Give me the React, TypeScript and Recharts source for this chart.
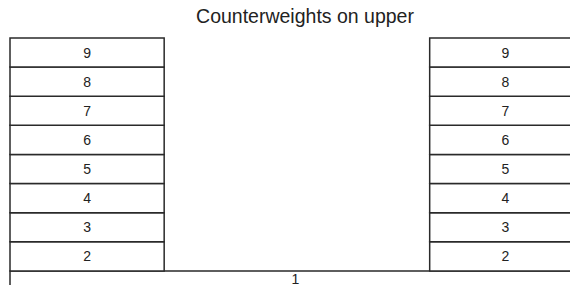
import { ComposedChart, XAxis, YAxis, ReferenceArea } from 'recharts';

// counterweights stacked on each side, bottom to top
const weightLabels = ['2', '3', '4', '5', '6', '7', '8', '9'];
const baseLabel = '1';
// column spans along the beam (0..100)
const leftColumn: [number, number] = [0, 27];
const rightColumn: [number, number] = [73.5, 100];
const baseSpan: [number, number] = [0, 100];
const title = 'Counterweights on upper';

const stroke = '#2a2a2a';
const font = 'Arial, "Liberation Sans", sans-serif';

export default function App() {
  const columns = [leftColumn, rightColumn];

  return (
    <div style={{ position: 'relative', width: 570, height: 277 }}>
      <div style={{ width: 570, height: 277, overflow: 'hidden' }}>
        <ComposedChart width={573} height={292} margin={{ top: 30, right: 0, bottom: 0, left: 2 }}>
          <XAxis type="number" dataKey="x" domain={[0, 100]} hide allowDataOverflow />
          <YAxis type="number" dataKey="y" domain={[0, weightLabels.length + 1]} hide allowDataOverflow />
          <ReferenceArea
            x1={baseSpan[0]}
            x2={baseSpan[1]}
            y1={0}
            y2={1}
            fill="#fff"
            fillOpacity={1}
            stroke={stroke}
            strokeWidth={1.5}
            ifOverflow="visible"
            label={{ value: baseLabel, position: 'insideTop', offset: 3, fill: '#222', fontSize: 14, fontFamily: font }}
          />
          {columns.map((col, ci) =>
            weightLabels.map((w, i) => (
              <ReferenceArea
                key={`w-${ci}-${w}`}
                x1={col[0]}
                x2={col[1]}
                y1={i + 1}
                y2={i + 2}
                fill="#fff"
                fillOpacity={1}
                stroke={stroke}
                strokeWidth={1.5}
                ifOverflow="visible"
                label={{ value: w, position: 'center', fill: '#222', fontSize: 14, fontFamily: font }}
              />
            ))
          )}
        </ComposedChart>
      </div>
      <div
        style={{
          position: 'absolute',
          left: 297,
          top: -2,
          transform: 'translateX(-50%)',
          whiteSpace: 'nowrap',
          fontFamily: font,
          fontSize: 19.5,
          lineHeight: '20px',
          color: '#222',
        }}
      >
        {title}
      </div>
    </div>
  );
}
